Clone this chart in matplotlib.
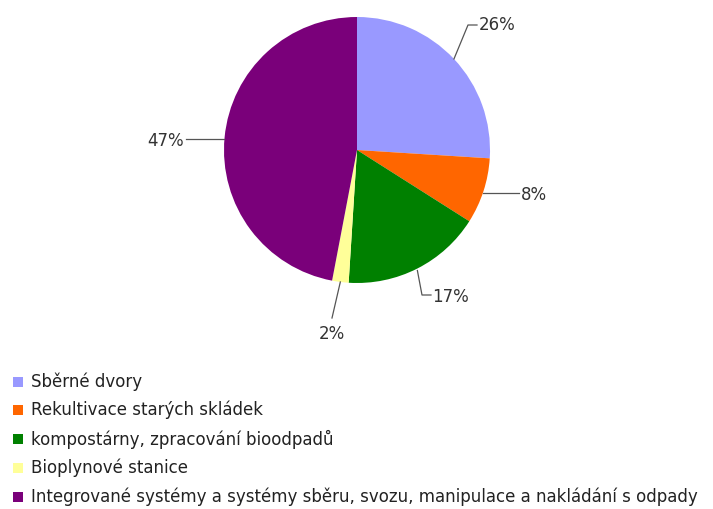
import numpy as np
import matplotlib
matplotlib.use("Agg")
import matplotlib.pyplot as plt
from matplotlib.patches import Rectangle, Wedge

categories = [
    "Sběrné dvory",
    "Rekultivace starých skládek",
    "kompostárny, zpracování bioodpadů",
    "Bioplynové stanice",
    "Integrované systémy a systémy sběru, svozu, manipulace a nakládání s odpady",
]
shares = [26, 8, 17, 2, 47]
colors = ["#9999FF", "#FF6600", "#008000", "#FFFF99", "#7A007A"]

plt.rcParams["font.family"] = ["DejaVu Sans"]

W, H = 713, 509
fig = plt.figure(figsize=(W / 100, H / 100), dpi=100)
ax = fig.add_axes([0, 0, 1, 1])
ax.set_xlim(0, W)
ax.set_ylim(H, 0)
ax.set_aspect("equal")
ax.axis("off")

# pie in pixel space (y grows downward), clockwise from 12 o'clock
cx, cy, r = 357, 150, 133
start = 90.0
mids = []
total = float(sum(shares))
for val, col in zip(shares, colors):
    sweep = 360.0 * val / total
    end = start - sweep
    ax.add_patch(Wedge((cx, cy), r, -start, -end, facecolor=col, edgecolor="none"))
    mids.append((start + end) / 2)
    start = end


def edge(a, rr=r):
    t = np.deg2rad(a)
    return cx + rr * np.cos(t), cy - rr * np.sin(t)


lc = "#555555"
tc = "#333333"
fs = 12
labels = [f"{v}%" for v in shares]

# 26%
x0, y0 = edge(mids[0])
ax.plot([x0, 468, 477], [y0, 25, 25], color=lc, lw=0.9)
ax.text(479, 25, labels[0], fontsize=fs, va="center", ha="left", color=tc)
# 8%
x0, y0 = edge(mids[1])
ax.plot([x0, 519], [193, 193], color=lc, lw=0.9)
ax.text(521, 195, labels[1], fontsize=fs, va="center", ha="left", color=tc)
# 17%
x0, y0 = edge(mids[2])
ax.plot([x0, 422, 431], [y0 + 2, 295, 295], color=lc, lw=0.9)
ax.text(432, 297, labels[2], fontsize=fs, va="center", ha="left", color=tc)
# 2%
x0, y0 = edge(mids[3])
ax.plot([x0, 332], [y0, 318], color=lc, lw=0.9)
ax.text(332, 334, labels[3], fontsize=fs, va="center", ha="center", color=tc)
# 47%
ax.plot([186, cx - np.sqrt(r**2 - 11**2)], [139, 139], color=lc, lw=0.9)
ax.text(184, 141, labels[4], fontsize=fs, va="center", ha="right", color=tc)

# legend
ys = [382, 410, 439, 468, 497]
for yy, name, col in zip(ys, categories, colors):
    ax.add_patch(Rectangle((13, yy - 5), 10, 10, facecolor=col, edgecolor="none"))
    ax.text(31, yy, name, fontsize=fs, va="center", ha="left", color="#222222")

fig.savefig("out.png", dpi=100, facecolor="white")
